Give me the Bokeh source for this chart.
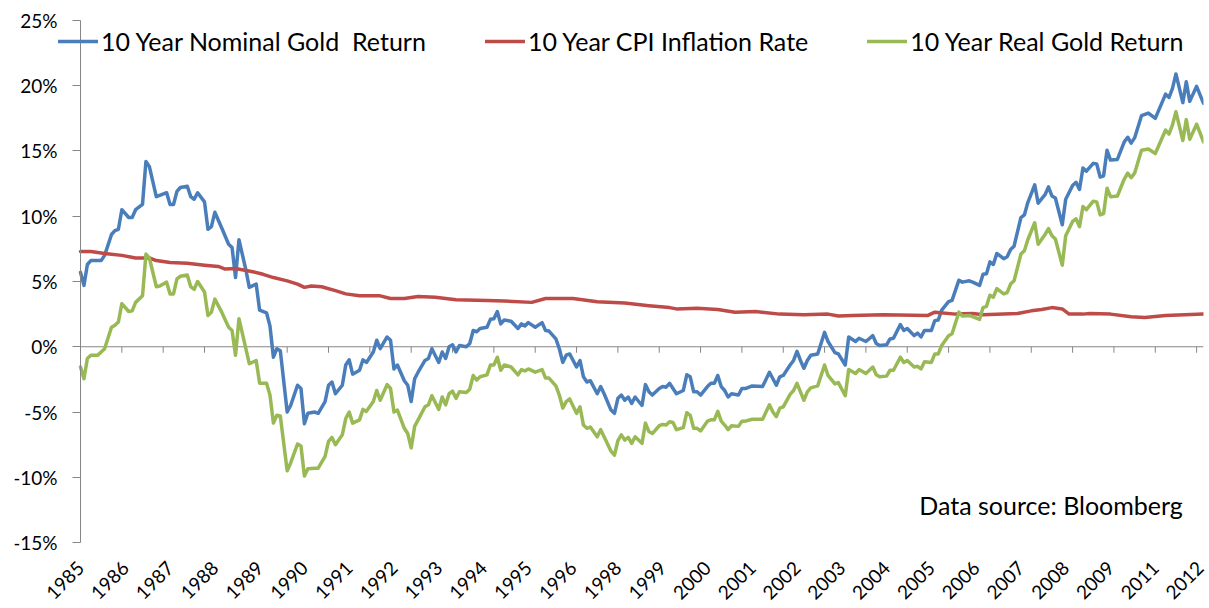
import math
from bokeh.plotting import figure
from bokeh.models import Range1d, FixedTicker, Legend, LegendItem, Label
from bokeh.core.properties import value
from bokeh.embed import file_html
from bokeh.resources import INLINE

# ---- data (month index since Jan 1985, percent) ----
nominal_pts = [
    (0, 5.7), (1, 4.7), (2, 6.3), (3, 6.6), (6, 6.6), (7, 7.0), (9, 8.6), (10, 8.9), (11, 9.0),
    (12, 10.5), (14, 9.9), (15, 9.9), (16, 10.5), (18, 10.9), (19, 14.2), (20, 13.8), (22, 11.5),
    (23, 11.6), (25, 11.8), (26, 10.9), (27, 10.9), (28, 11.9), (29, 12.2), (31, 12.3), (32, 11.5),
    (33, 11.3), (34, 11.8), (36, 11.1), (37, 9.0), (38, 9.2), (39, 10.3), (41, 9.1), (43, 7.85),
    (44, 7.6), (45, 5.3), (46, 8.2), (48, 5.9), (49, 4.55), (51, 4.8), (52, 2.8), (54, 2.6),
    (55, 1.6), (56, -0.8), (57, -0.15), (58, -0.3), (60, -5.0), (61, -4.5), (63, -2.95), (64, -3.2),
    (65, -5.9), (66, -5.1), (68, -5.0), (69, -5.1), (71, -4.2), (72, -2.95), (73, -2.7), (74, -3.6),
    (76, -2.95), (77, -1.4), (78, -1.0), (79, -2.1), (81, -1.8), (82, -1.0), (83, -1.2), (85, -0.4),
    (86, 0.5), (87, -0.15), (89, 0.75), (90, 0.5), (91, -1.7), (92, -1.4), (94, -2.6), (95, -2.95),
    (96, -4.2), (97, -2.45), (98, -1.95), (100, -1.05), (101, -0.9), (102, -0.15), (104, -1.2),
    (105, -0.4), (106, -0.9), (107, 0.0), (108, 0.15), (109, -0.4), (110, 0.1), (112, 0.0),
    (113, 0.25), (114, 1.25), (115, 1.15), (116, 1.4), (118, 1.5), (119, 2.1), (120, 2.15),
    (121, 2.7), (122, 1.75), (123, 2.05), (125, 1.95), (127, 1.4), (128, 1.75), (129, 1.6),
    (130, 1.85), (132, 1.5), (134, 1.85), (135, 1.25), (136, 1.2), (138, 0.6), (139, -0.15),
    (140, -1.2), (141, -0.65), (142, -0.55), (144, -1.55), (145, -1.05), (146, -2.3), (147, -2.7),
    (148, -2.6), (150, -3.6), (151, -3.05), (152, -3.6), (154, -4.85), (155, -5.1), (156, -3.95),
    (157, -3.7), (158, -4.1), (159, -3.85), (160, -4.35), (161, -3.85), (163, -4.5), (164, -2.9),
    (165, -3.45), (166, -3.7), (168, -3.2), (169, -3.05), (170, -3.1), (171, -2.8), (172, -3.2),
    (173, -3.6), (175, -3.35), (176, -2.15), (177, -2.3), (178, -3.45), (179, -3.45), (180, -3.7),
    (182, -3.05), (183, -2.8), (184, -2.8), (185, -2.2), (186, -3.05), (187, -3.35), (188, -3.85),
    (189, -3.6), (191, -3.7), (192, -3.2), (193, -3.2), (195, -3.0), (198, -3.05), (200, -1.95),
    (201, -2.45), (202, -2.95), (203, -2.3), (204, -2.2), (206, -1.4), (207, -1.05), (208, -0.35),
    (209, -1.05), (210, -1.65), (211, -1.05), (212, -0.65), (214, -0.55), (216, 1.1), (217, 0.4),
    (219, -0.45), (220, -0.55), (222, -1.4), (223, 0.75), (225, 0.4), (226, 0.65), (228, 0.4),
    (230, 0.85), (231, 0.25), (232, 0.1), (234, 0.15), (235, 0.6), (236, 0.65), (238, 1.7),
    (239, 1.25), (240, 1.4), (242, 0.85), (243, 1.05), (244, 0.75), (245, 1.25), (247, 1.25),
    (248, 2.0), (249, 2.05), (250, 2.8), (252, 3.45), (253, 3.55), (255, 5.1), (256, 4.95),
    (258, 5.05), (259, 4.95), (261, 4.7), (262, 5.55), (263, 5.6), (264, 6.5), (265, 6.3),
    (266, 7.15), (268, 6.75), (269, 6.9), (270, 7.45), (271, 7.7), (273, 9.9), (274, 10.1),
    (275, 11.05), (277, 12.4), (278, 11.0), (280, 11.65), (281, 12.25), (282, 11.55), (283, 11.4),
    (285, 9.35), (286, 11.3), (288, 12.35), (289, 12.6), (290, 12.05), (291, 13.7), (292, 13.45),
    (294, 14.05), (295, 14.0), (296, 13.0), (297, 13.1), (298, 15.05), (299, 14.3), (301, 14.35),
    (303, 15.7), (304, 16.05), (305, 15.6), (306, 16.0), (308, 17.7), (310, 17.9), (312, 17.5),
    (315, 19.35), (316, 19.1), (317, 19.8), (318, 20.9), (320, 18.7), (321, 20.3), (322, 18.8),
    (324, 19.95), (326, 18.65),
]

cpi_pts = [
    (0, 7.3), (3, 7.3), (7, 7.15), (12, 7.0), (16, 6.8), (20, 6.8), (22, 6.6), (26, 6.45),
    (31, 6.4), (36, 6.25), (40, 6.15), (42, 5.95), (45, 6.0), (50, 5.75), (53, 5.55), (56, 5.3),
    (60, 5.05), (63, 4.8), (65, 4.55), (67, 4.65), (70, 4.6), (74, 4.3), (77, 4.05), (81, 3.9),
    (87, 3.9), (90, 3.7), (94, 3.7), (98, 3.85), (103, 3.8), (109, 3.6), (118, 3.55), (123, 3.5),
    (131, 3.4), (135, 3.7), (143, 3.7), (150, 3.45), (158, 3.35), (165, 3.15), (171, 3.0),
    (173, 2.9), (179, 2.95), (185, 2.85), (190, 2.65), (196, 2.7), (203, 2.5), (210, 2.45),
    (217, 2.5), (220, 2.35), (224, 2.4), (233, 2.45), (246, 2.4), (248, 2.65), (254, 2.5),
    (259, 2.55), (262, 2.45), (272, 2.55), (276, 2.75), (279, 2.85), (282, 3.0), (285, 2.9),
    (287, 2.5), (291, 2.5), (293, 2.55), (299, 2.5), (305, 2.3), (309, 2.25), (315, 2.4),
    (326, 2.5),
]

real_pts = [
    (0, -1.55), (1, -2.45), (2, -0.9), (3, -0.65), (5, -0.65), (7, -0.15), (9, 1.5), (10, 1.65),
    (11, 1.9), (12, 3.3), (14, 2.7), (15, 2.75), (16, 3.4), (18, 3.9), (19, 7.1), (20, 6.8),
    (22, 4.6), (23, 4.65), (25, 4.95), (26, 4.05), (27, 4.05), (28, 5.2), (29, 5.4), (31, 5.5),
    (32, 4.6), (33, 4.4), (34, 5.0), (36, 4.2), (37, 2.4), (38, 2.65), (39, 3.65), (41, 2.65),
    (43, 1.5), (44, 1.25), (45, -0.65), (46, 2.15), (48, -0.15), (49, -1.3), (51, -1.05),
    (52, -2.8), (54, -2.8), (55, -3.7), (56, -5.85), (57, -5.25), (58, -5.3), (60, -9.5),
    (61, -8.9), (63, -7.45), (64, -7.6), (65, -9.9), (66, -9.35), (68, -9.3), (69, -9.3),
    (71, -8.4), (72, -7.25), (73, -6.95), (74, -7.5), (76, -6.75), (77, -5.5), (78, -5.0),
    (79, -5.85), (81, -5.6), (82, -4.8), (83, -4.95), (85, -4.2), (86, -3.35), (87, -4.1),
    (89, -2.9), (90, -3.2), (91, -5.0), (92, -4.85), (94, -6.25), (95, -6.65), (96, -7.75),
    (97, -6.1), (98, -5.6), (100, -4.6), (101, -4.45), (102, -3.75), (104, -4.8), (105, -3.85),
    (106, -4.45), (107, -3.6), (108, -3.4), (109, -3.95), (110, -3.45), (112, -3.5), (113, -3.25),
    (114, -2.2), (115, -2.55), (116, -2.3), (118, -2.15), (119, -1.4), (120, -1.4), (121, -0.8),
    (122, -1.8), (123, -1.4), (125, -1.55), (127, -2.15), (128, -1.75), (129, -1.85), (130, -1.7),
    (132, -1.95), (134, -1.75), (135, -2.4), (136, -2.4), (138, -3.0), (139, -3.7), (140, -4.7),
    (141, -4.2), (142, -4.0), (144, -5.1), (145, -4.6), (146, -6.0), (147, -6.25), (148, -6.15),
    (150, -6.9), (151, -6.35), (152, -6.9), (154, -8.0), (155, -8.3), (156, -7.2), (157, -6.75),
    (158, -7.15), (159, -6.95), (160, -7.4), (161, -6.9), (163, -7.4), (164, -5.85), (165, -6.5),
    (166, -6.65), (168, -6.05), (169, -5.95), (170, -6.0), (171, -5.75), (172, -5.8), (173, -6.35),
    (175, -6.2), (176, -5.05), (177, -5.25), (178, -6.25), (179, -6.25), (180, -6.45), (182, -5.7),
    (183, -5.6), (184, -5.6), (185, -4.95), (186, -5.7), (187, -6.0), (188, -6.35), (189, -6.05),
    (191, -6.1), (192, -5.7), (193, -5.7), (195, -5.55), (198, -5.55), (200, -4.45), (201, -5.0),
    (202, -5.35), (203, -4.7), (204, -4.6), (206, -3.65), (207, -3.35), (208, -2.8), (209, -3.45),
    (210, -4.1), (211, -3.45), (212, -3.15), (214, -3.0), (216, -1.4), (217, -2.2), (219, -2.85),
    (220, -2.75), (222, -3.75), (223, -1.75), (225, -2.05), (226, -1.75), (228, -2.05),
    (230, -1.55), (231, -2.15), (232, -2.3), (234, -2.25), (235, -1.8), (236, -1.8), (238, -0.8),
    (239, -1.2), (240, -1.05), (242, -1.55), (243, -1.5), (244, -1.7), (245, -1.15), (247, -1.2),
    (248, -0.55), (249, -0.55), (250, 0.1), (252, 0.85), (253, 1.0), (255, 2.65), (256, 2.35),
    (258, 2.4), (259, 2.3), (261, 2.1), (262, 3.0), (263, 3.1), (264, 3.95), (265, 3.8),
    (266, 4.45), (268, 4.05), (269, 4.15), (270, 4.8), (271, 5.05), (273, 7.1), (274, 7.35),
    (275, 8.2), (277, 9.5), (278, 7.85), (280, 8.6), (281, 9.05), (282, 8.5), (283, 8.25),
    (285, 6.25), (286, 8.5), (288, 9.6), (289, 9.8), (290, 9.2), (291, 10.75), (292, 10.5),
    (294, 11.15), (295, 11.1), (296, 10.1), (297, 10.2), (298, 12.15), (299, 11.5), (301, 11.55),
    (303, 12.85), (304, 13.3), (305, 12.95), (306, 13.3), (308, 15.05), (310, 15.15), (312, 14.8),
    (315, 16.6), (316, 16.3), (317, 17.0), (318, 18.0), (320, 15.8), (321, 17.4), (322, 15.9),
    (324, 17.05), (326, 15.7),
]

tick_labels = ["1985", "1986", "1987", "1988", "1989", "1990", "1991", "1992", "1993",
               "1994", "1995", "1996", "1998", "1999", "2000", "2001", "2002", "2003",
               "2004", "2005", "2006", "2007", "2008", "2009", "2011", "2012"]
label_every = 13      # category label interval (months)
tick_every = 12       # tick mark interval (months)
n_months = 326
y_ticks = [-15, -10, -5, 0, 5, 10, 15, 20, 25]
y_tick_labels = ["-15%", "-10%", "-5%", "0%", "5%", "10%", "15%", "20%", "25%"]

series_names = ["10 Year Nominal Gold  Return", "10 Year CPI Inflation Rate", "10 Year Real Gold Return"]
series_colors = ["#4A7EBB", "#BE4B48", "#98B954"]

FONT = "Lato"
AXIS_GRAY = "#868686"

# ---- layout (pixels) ----
W, H = 1209, 608
FRAME_LEFT = 14          # frame reaches left of the value axis so labels and legend can overhang it
AXIS_X = 80              # where the value axis (month 0) sits
LABEL_RIGHT = 57         # right edge of the value labels
RIGHT_PAD = 6
FRAME_TOP, AXIS_TOP = 8, 20          # frame top / pixel of 25%
AXIS_BOTTOM, FRAME_BOTTOM = 545, 553  # pixel of -15% / frame bottom
y_min, y_max = y_ticks[0], y_ticks[-1]

px_per_month = (W - RIGHT_PAD - AXIS_X) / n_months
x_start = -(AXIS_X - FRAME_LEFT) / px_per_month
label_x = -(AXIS_X - LABEL_RIGHT) / px_per_month
px_per_pct = (AXIS_BOTTOM - AXIS_TOP) / (y_max - y_min)
y_lo = y_min - (FRAME_BOTTOM - AXIS_BOTTOM) / px_per_pct
y_hi = y_max + (AXIS_TOP - FRAME_TOP) / px_per_pct

p = figure(width=W, height=H, output_backend="svg", toolbar_location=None,
           x_range=Range1d(x_start, n_months), y_range=Range1d(y_lo, y_hi),
           min_border_left=FRAME_LEFT, min_border_right=RIGHT_PAD, min_border_top=FRAME_TOP,
           min_border_bottom=H - FRAME_BOTTOM)
p.outline_line_color = None
p.grid.visible = False
p.background_fill_color = "white"
p.border_fill_color = "white"

# x axis (labels only, at the bottom)
label_pos = [i * label_every for i in range(len(tick_labels))]
p.xaxis.ticker = FixedTicker(ticks=label_pos)
p.xaxis.major_label_overrides = {pos: lab for pos, lab in zip(label_pos, tick_labels)}
p.xaxis.major_label_orientation = math.pi / 4
p.xaxis.axis_line_color = None
p.xaxis.major_tick_line_color = None
p.xaxis.minor_tick_line_color = None
p.xaxis.major_label_standoff = 8
p.xaxis.major_label_text_font = FONT
p.xaxis.major_label_text_font_size = "19px"
p.xaxis.major_label_text_line_height = 1.0
p.xaxis.major_label_text_color = "black"

# y axis line + ticks, pinned at month 0 (its labels are drawn as text below)
p.yaxis.fixed_location = 0
p.yaxis.bounds = (y_min, y_max)
p.yaxis.ticker = FixedTicker(ticks=y_ticks)
p.yaxis.axis_line_color = AXIS_GRAY
p.yaxis.major_tick_line_color = AXIS_GRAY
p.yaxis.major_tick_out = 8
p.yaxis.major_tick_in = 0
p.yaxis.minor_tick_line_color = None
p.yaxis.major_label_standoff = 0
p.yaxis.major_label_text_font_size = "1px"
p.yaxis.major_label_text_color = None

p.text(x=[label_x] * len(y_ticks), y=y_ticks, text=y_tick_labels,
       text_font=value(FONT), text_font_size=value("19px"), text_color="black",
       text_align="right", text_baseline="middle")

# horizontal axis line at 0% with its tick marks
p.segment(x0=[0], y0=[0], x1=[n_months], y1=[0], line_color=AXIS_GRAY, line_width=1)
tick_pos = list(range(0, n_months + 1, tick_every))
tick_len = 6 / px_per_pct
p.segment(x0=tick_pos, y0=[0] * len(tick_pos), x1=tick_pos, y1=[-tick_len] * len(tick_pos),
          line_color=AXIS_GRAY, line_width=1)

renderers = []
for pts, col in zip([nominal_pts, cpi_pts, real_pts], series_colors):
    xs, ys = zip(*pts)
    r = p.line(list(xs), list(ys), line_color=col, line_width=3.5, line_join="round", line_cap="round")
    renderers.append(r)

legend = Legend(items=[LegendItem(label=n, renderers=[r]) for n, r in zip(series_names, renderers)],
                orientation="horizontal", location=(44, FRAME_BOTTOM - 59),
                glyph_width=40, glyph_height=30, label_height=30, label_width=10,
                label_standoff=3, spacing=59, padding=0, margin=0,
                background_fill_alpha=0, border_line_alpha=0,
                label_text_font=FONT, label_text_font_size="25px", label_text_color="black")
p.add_layout(legend, "center")

p.add_layout(Label(x=243.5, y=-12.1, text="Data source: Bloomberg", text_font=FONT,
                   text_font_size="25px", text_color="black", text_baseline="alphabetic"))

open("out.html", "w").write(file_html(p, INLINE))
